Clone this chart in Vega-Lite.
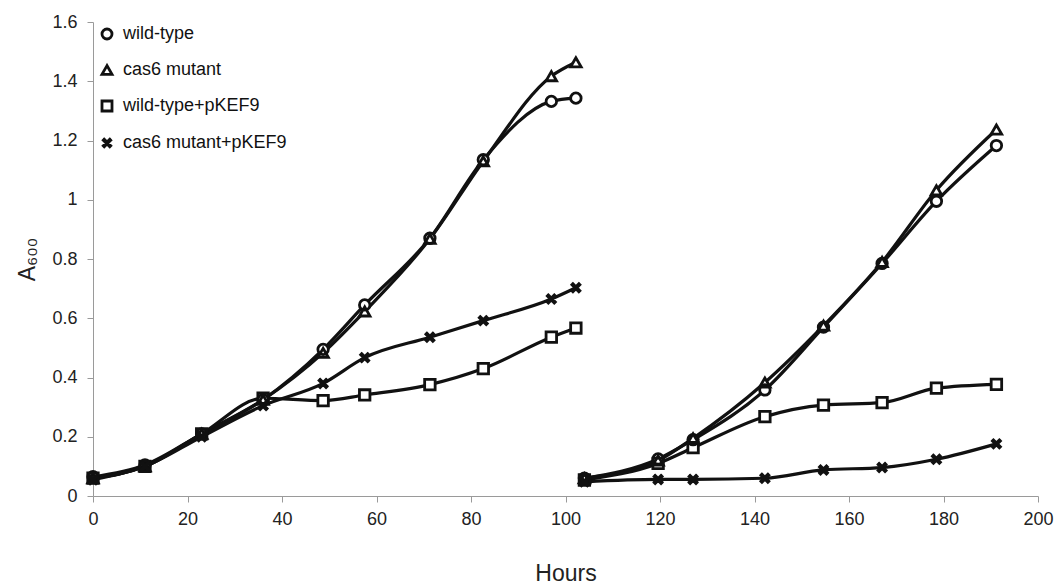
{
  "$schema": "https://vega.github.io/schema/vega-lite/v6.json",
  "width": 945,
  "height": 474,
  "autosize": {"type": "none"},
  "padding": {"left": 93, "top": 22, "right": 20, "bottom": 88},
  "background": "white",
  "config": {
    "view": {"stroke": null},
    "axis": {
      "grid": false,
      "labelFlush": false,
      "domainColor": "#9a9a9a",
      "tickColor": "#9a9a9a",
      "tickSize": 6,
      "labelColor": "#222222",
      "labelFont": "Liberation Sans",
      "labelFontSize": 18,
      "titleFont": "Liberation Sans",
      "titleFontWeight": "normal",
      "titleFontSize": 23,
      "titleColor": "#222222"
    },
    "legend": {
      "symbolStrokeColor": "#111111",
      "symbolFillColor": "white",
      "symbolStrokeWidth": 2.8,
      "symbolSize": 100,
      "symbolOpacity": 1
    }
  },
  "data": {
    "values": [
      {"t": 0, "v": 0.065, "s": "wild-type", "run": 1},
      {"t": 11, "v": 0.105, "s": "wild-type", "run": 1},
      {"t": 23, "v": 0.21, "s": "wild-type", "run": 1},
      {"t": 36, "v": 0.325, "s": "wild-type", "run": 1},
      {"t": 48.7, "v": 0.495, "s": "wild-type", "run": 1},
      {"t": 57.5, "v": 0.645, "s": "wild-type", "run": 1},
      {"t": 71.3, "v": 0.87, "s": "wild-type", "run": 1},
      {"t": 82.6, "v": 1.135, "s": "wild-type", "run": 1},
      {"t": 97, "v": 1.332, "s": "wild-type", "run": 1},
      {"t": 102.2, "v": 1.343, "s": "wild-type", "run": 1},
      {"t": 104, "v": 0.06, "s": "wild-type", "run": 2},
      {"t": 119.6, "v": 0.125, "s": "wild-type", "run": 2},
      {"t": 127, "v": 0.19, "s": "wild-type", "run": 2},
      {"t": 142.2, "v": 0.358, "s": "wild-type", "run": 2},
      {"t": 154.6, "v": 0.57, "s": "wild-type", "run": 2},
      {"t": 167, "v": 0.785, "s": "wild-type", "run": 2},
      {"t": 178.5, "v": 0.995, "s": "wild-type", "run": 2},
      {"t": 191.2, "v": 1.183, "s": "wild-type", "run": 2},

      {"t": 0, "v": 0.06, "s": "cas6 mutant", "run": 1},
      {"t": 11, "v": 0.1, "s": "cas6 mutant", "run": 1},
      {"t": 23, "v": 0.21, "s": "cas6 mutant", "run": 1},
      {"t": 36, "v": 0.325, "s": "cas6 mutant", "run": 1},
      {"t": 48.7, "v": 0.483, "s": "cas6 mutant", "run": 1},
      {"t": 57.5, "v": 0.623, "s": "cas6 mutant", "run": 1},
      {"t": 71.3, "v": 0.868, "s": "cas6 mutant", "run": 1},
      {"t": 82.6, "v": 1.13, "s": "cas6 mutant", "run": 1},
      {"t": 97, "v": 1.417, "s": "cas6 mutant", "run": 1},
      {"t": 102.2, "v": 1.464, "s": "cas6 mutant", "run": 1},
      {"t": 104, "v": 0.06, "s": "cas6 mutant", "run": 2},
      {"t": 119.6, "v": 0.12, "s": "cas6 mutant", "run": 2},
      {"t": 127, "v": 0.195, "s": "cas6 mutant", "run": 2},
      {"t": 142.2, "v": 0.383, "s": "cas6 mutant", "run": 2},
      {"t": 154.6, "v": 0.575, "s": "cas6 mutant", "run": 2},
      {"t": 167, "v": 0.79, "s": "cas6 mutant", "run": 2},
      {"t": 178.5, "v": 1.032, "s": "cas6 mutant", "run": 2},
      {"t": 191.2, "v": 1.237, "s": "cas6 mutant", "run": 2},

      {"t": 0, "v": 0.06, "s": "wild-type+pKEF9", "run": 1},
      {"t": 11, "v": 0.1, "s": "wild-type+pKEF9", "run": 1},
      {"t": 23, "v": 0.21, "s": "wild-type+pKEF9", "run": 1},
      {"t": 36, "v": 0.33, "s": "wild-type+pKEF9", "run": 1},
      {"t": 48.7, "v": 0.322, "s": "wild-type+pKEF9", "run": 1},
      {"t": 57.5, "v": 0.341, "s": "wild-type+pKEF9", "run": 1},
      {"t": 71.3, "v": 0.376, "s": "wild-type+pKEF9", "run": 1},
      {"t": 82.6, "v": 0.43, "s": "wild-type+pKEF9", "run": 1},
      {"t": 97, "v": 0.536, "s": "wild-type+pKEF9", "run": 1},
      {"t": 102.2, "v": 0.567, "s": "wild-type+pKEF9", "run": 1},
      {"t": 104, "v": 0.054, "s": "wild-type+pKEF9", "run": 2},
      {"t": 119.6, "v": 0.11, "s": "wild-type+pKEF9", "run": 2},
      {"t": 127, "v": 0.163, "s": "wild-type+pKEF9", "run": 2},
      {"t": 142.2, "v": 0.268, "s": "wild-type+pKEF9", "run": 2},
      {"t": 154.6, "v": 0.307, "s": "wild-type+pKEF9", "run": 2},
      {"t": 167, "v": 0.315, "s": "wild-type+pKEF9", "run": 2},
      {"t": 178.5, "v": 0.364, "s": "wild-type+pKEF9", "run": 2},
      {"t": 191.2, "v": 0.377, "s": "wild-type+pKEF9", "run": 2},

      {"t": 0, "v": 0.055, "s": "cas6 mutant+pKEF9", "run": 1},
      {"t": 11, "v": 0.1, "s": "cas6 mutant+pKEF9", "run": 1},
      {"t": 23, "v": 0.2, "s": "cas6 mutant+pKEF9", "run": 1},
      {"t": 36, "v": 0.305, "s": "cas6 mutant+pKEF9", "run": 1},
      {"t": 48.7, "v": 0.38, "s": "cas6 mutant+pKEF9", "run": 1},
      {"t": 57.5, "v": 0.467, "s": "cas6 mutant+pKEF9", "run": 1},
      {"t": 71.3, "v": 0.536, "s": "cas6 mutant+pKEF9", "run": 1},
      {"t": 82.6, "v": 0.592, "s": "cas6 mutant+pKEF9", "run": 1},
      {"t": 97, "v": 0.665, "s": "cas6 mutant+pKEF9", "run": 1},
      {"t": 102.2, "v": 0.703, "s": "cas6 mutant+pKEF9", "run": 1},
      {"t": 104, "v": 0.048, "s": "cas6 mutant+pKEF9", "run": 2},
      {"t": 119.6, "v": 0.056, "s": "cas6 mutant+pKEF9", "run": 2},
      {"t": 127, "v": 0.056, "s": "cas6 mutant+pKEF9", "run": 2},
      {"t": 142.2, "v": 0.06, "s": "cas6 mutant+pKEF9", "run": 2},
      {"t": 154.6, "v": 0.088, "s": "cas6 mutant+pKEF9", "run": 2},
      {"t": 167, "v": 0.096, "s": "cas6 mutant+pKEF9", "run": 2},
      {"t": 178.5, "v": 0.124, "s": "cas6 mutant+pKEF9", "run": 2},
      {"t": 191.2, "v": 0.176, "s": "cas6 mutant+pKEF9", "run": 2}
    ]
  },
  "encoding": {
    "x": {
      "field": "t", "type": "quantitative",
      "scale": {"domain": [0, 200], "nice": false},
      "axis": {"values": [0, 20, 40, 60, 80, 100, 120, 140, 160, 180, 200], "title": "Hours", "labelPadding": 8, "titlePadding": 34}
    },
    "y": {
      "field": "v", "type": "quantitative",
      "scale": {"domain": [0, 1.6], "nice": false},
      "axis": {"values": [0, 0.2, 0.4, 0.6, 0.8, 1, 1.2, 1.4, 1.6], "format": "~g", "title": "A₆₀₀", "labelPadding": 10, "titlePadding": 12}
    }
  },
  "resolve": {"legend": {"shape": "independent"}},
  "layer": [
    {
      "mark": {"type": "line", "interpolate": "monotone", "color": "#111111", "strokeWidth": 3.2},
      "encoding": {
        "detail": [{"field": "s"}, {"field": "run"}]
      }
    },
    {
      "mark": {"type": "point", "filled": true, "color": "white", "opacity": 1, "size": 110},
      "encoding": {
        "shape": {
          "field": "s", "type": "nominal",
          "scale": {
            "domain": ["wild-type", "cas6 mutant", "wild-type+pKEF9", "cas6 mutant+pKEF9"],
            "range": ["circle", "triangle-up", "square", "M-0.85,-0.85L0.85,0.85M-0.85,0.85L0.85,-0.85M-0.75,-0.95L0.95,0.75M-0.95,-0.75L0.75,0.95M-0.75,0.95L0.95,-0.75M-0.95,0.75L0.75,-0.95"]
          },
          "legend": null
        }
      }
    },
    {
      "mark": {"type": "point", "filled": false, "color": "#111111", "strokeWidth": 2.8, "opacity": 1, "size": 110},
      "encoding": {
        "shape": {
          "field": "s", "type": "nominal",
          "scale": {
            "domain": ["wild-type", "cas6 mutant", "wild-type+pKEF9", "cas6 mutant+pKEF9"],
            "range": ["circle", "triangle-up", "square", "M-0.85,-0.85L0.85,0.85M-0.85,0.85L0.85,-0.85M-0.75,-0.95L0.95,0.75M-0.95,-0.75L0.75,0.95M-0.75,0.95L0.95,-0.75M-0.95,0.75L0.75,-0.95"]
          },
          "legend": {
            "title": null,
            "orient": "none",
            "legendX": 5,
            "legendY": 3,
            "labelFont": "Liberation Sans",
            "labelFontSize": 18,
            "labelColor": "#111111",
            "labelLimit": 400,
            "rowPadding": 15,
            "labelOffset": 7
          }
        }
      }
    }
  ]
}
